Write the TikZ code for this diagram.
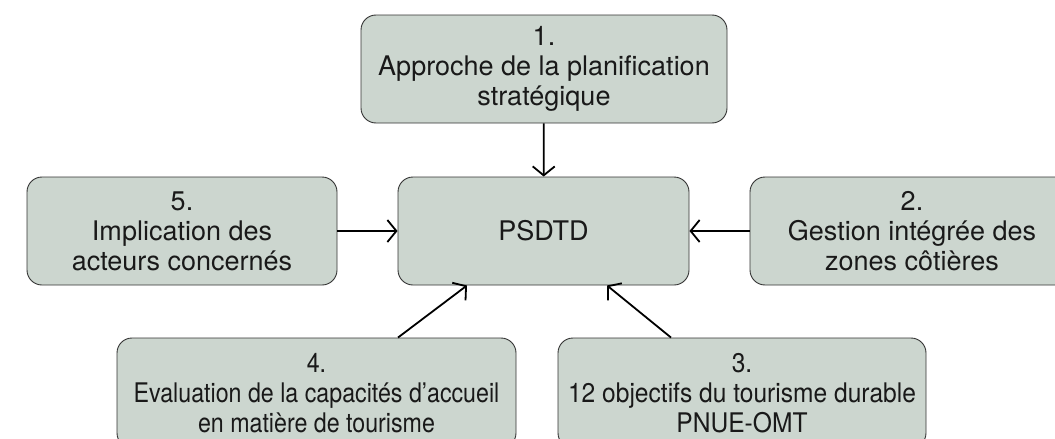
\documentclass[tikz,border=0pt]{standalone}
\usepackage{fontspec}
\setmainfont{TeX Gyre Heros}
\newfontfamily\narrowfont[FakeStretch=0.86]{TeX Gyre Heros}
\newfontfamily\semifont[FakeStretch=0.91]{TeX Gyre Heros}
\usepackage{tikz}
\usetikzlibrary{arrows.meta, calc, positioning}

\definecolor{boxfill}{RGB}{204,214,207}

\begin{document}
\begin{tikzpicture}[x=1pt,y=-1pt,
        box/.style={draw=black!80, line width=0.9pt, fill=boxfill, rounded corners=15pt,
                    align=center, font=\fontsize{27}{30}\selectfont, text=black!90, inner sep=0pt},
        arr/.style={-{Straight Barb[length=9pt,width=22pt]}, line width=1.8pt}]
        %\draw [step=50] (0,0) grid (1055,439);
        \path[use as bounding box, clip] (0,0) rectangle (1055,439);

        \node[box, minimum width=366pt, minimum height=108pt] (strat) at (544,69) {1.\\Approche de la planification\\strat\'egique};
        \node[box, minimum width=291pt, minimum height=108pt] (psdtd) at (543.5,231) {PSDTD};
        \node[box, minimum width=310pt, minimum height=108pt] (acteurs) at (182,231) {5.\\Implication des\\acteurs concern\'es};
        \node[box, minimum width=324pt, minimum height=108pt] (gizc) at (912,231) {2.\\Gestion int\'egr\'ee des\\zones c\^oti\`eres};
        \node[box, minimum width=399pt, minimum height=110pt] (capacite) at (316.5,393) {\narrowfont 4.\\\narrowfont Evaluation de la capacit\'es d’accueil\\\narrowfont en mati\`ere de tourisme};
        \node[box, minimum width=368pt, minimum height=110pt] (objectifs) at (742,393) {\semifont 3.\\\semifont 12 objectifs du tourisme durable\\\semifont PNUE-OMT};

        \draw[arr] (strat) -- (psdtd);
        \draw[arr] (acteurs) -- (psdtd);
        \draw[arr] (gizc) -- (psdtd);
        \draw[arr] ([xshift=81.5pt]capacite.north) -- ([xshift=-76.5pt]psdtd.south);
        \draw[arr] ([xshift=-71pt]objectifs.north) -- ([xshift=63.5pt]psdtd.south);
    \end{tikzpicture}
\end{document}
